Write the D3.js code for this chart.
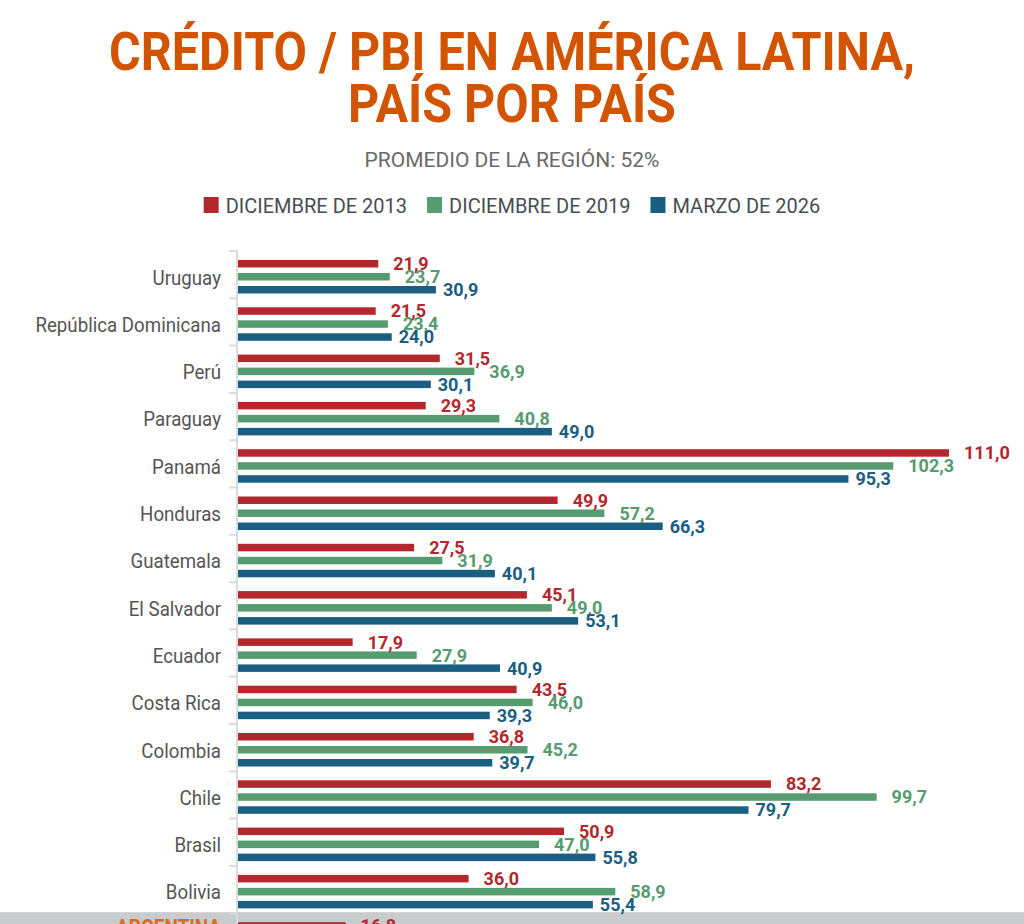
<!DOCTYPE html>
<html>
<head>
<meta charset="utf-8">
<script src="https://cdn.jsdelivr.net/npm/d3@7"></script>
<style>
  html, body { margin: 0; padding: 0; background: #fff; }
  svg { display: block; }
</style>
</head>
<body>
<svg id="chart" width="1024" height="924"></svg>
<script>
// ---------- DATA ----------
const countries = ["Uruguay", "República Dominicana", "Perú", "Paraguay", "Panamá", "Honduras",
  "Guatemala", "El Salvador", "Ecuador", "Costa Rica", "Colombia", "Chile", "Brasil", "Bolivia", "Argentina"];
const dec2013 = [21.9, 21.5, 31.5, 29.3, 111.0, 49.9, 27.5, 45.1, 17.9, 43.5, 36.8, 83.2, 50.9, 36.0, 16.8];
const dec2019 = [23.7, 23.4, 36.9, 40.8, 102.3, 57.2, 31.9, 49.0, 27.9, 46.0, 45.2, 99.7, 47.0, 58.9, null];
const mar2026 = [30.9, 24.0, 30.1, 49.0, 95.3, 66.3, 40.1, 53.1, 40.9, 39.3, 39.7, 79.7, 55.8, 55.4, null];
const seriesNames = ["DICIEMBRE DE 2013", "DICIEMBRE DE 2019", "MARZO DE 2026"];
const seriesColors = ["#b3282d", "#569c70", "#1a5e82"];
const titleLines = ["CRÉDITO / PBI EN AMÉRICA LATINA,", "PAÍS POR PAÍS"];
const subtitleText = "PROMEDIO DE LA REGIÓN: 52%";
const highlightCountry = "Argentina";

// ---------- SETUP ----------
const svg = d3.select("#chart");
const W = 1024, H = 924;
const FONT = "Roboto, 'Open Sans', 'Liberation Sans', sans-serif";
const seriesData = [dec2013, dec2019, mar2026];
const rows = countries.map((c, i) => ({ country: c, values: seriesData.map(s => s[i]) }));

const step = 47.3;
const yBand = d3.scaleBand().domain(countries)
  .range([251, 251 + step * countries.length]).paddingInner(0).paddingOuter(0);
const ySub = d3.scaleBand().domain(d3.range(seriesNames.length)).range([9, 42.5]).paddingInner(0.423);
const x = d3.scaleLinear().domain([0, d3.max(dec2013.concat(dec2019, mar2026))]).range([238, 949]);
const fmt = v => d3.format(".1f")(v).replace(".", ",");

// ---------- TITLE ----------
const titleG = svg.append("g");
const titleBaselines = [70, 122];
const tNodes = titleLines.map((t, i) => titleG.append("text")
  .attr("x", W / 2).attr("y", titleBaselines[i])
  .attr("text-anchor", "middle")
  .style("font-family", FONT).style("font-weight", 700).style("font-size", "53px")
  .attr("fill", "#d35400").text(t));
const natural1 = tNodes[0].node().getComputedTextLength();
const tFactor = 806 / natural1;
tNodes.forEach(n => {
  const L = n.node().getComputedTextLength();
  n.attr("textLength", L * tFactor).attr("lengthAdjust", "spacingAndGlyphs");
});

svg.append("text")
  .attr("x", W / 2).attr("y", 167).attr("text-anchor", "middle")
  .style("font-family", FONT).style("font-size", "21px")
  .attr("fill", "#6a6a6a").text(subtitleText);

// ---------- LEGEND ----------
const legend = svg.append("g");
const items = seriesNames.map((name, i) => {
  const g = legend.append("g");
  g.append("rect").attr("x", 0).attr("y", 197).attr("width", 15).attr("height", 16)
    .attr("fill", seriesColors[i]);
  const t = g.append("text").attr("x", 22).attr("y", 212.5)
    .style("font-family", FONT).style("font-size", "20px")
    .attr("fill", "#484d52").text(name);
  return { g, w: 22 + t.node().getComputedTextLength() };
});
const gap = 20;
const totalW = d3.sum(items, d => d.w) + gap * (items.length - 1);
let lx = W / 2 - totalW / 2;
items.forEach(it => { it.g.attr("transform", `translate(${lx},0)`); lx += it.w + gap; });

// ---------- HIGHLIGHT BAND ----------
svg.append("rect")
  .attr("x", 0).attr("y", yBand(highlightCountry) - 1)
  .attr("width", W).attr("height", yBand.step() + 1)
  .attr("fill", "#c9cccc");

// ---------- AXIS ----------
const axisG = svg.append("g");
axisG.append("line")
  .attr("x1", 237).attr("x2", 237)
  .attr("y1", yBand.range()[0]).attr("y2", yBand.range()[1])
  .attr("stroke", "#dcdcdc").attr("stroke-width", 2);
axisG.selectAll("line.tick").data(countries).join("line")
  .attr("class", "tick")
  .attr("x1", 229).attr("x2", 237)
  .attr("y1", d => yBand(d)).attr("y2", d => yBand(d))
  .attr("stroke", "#dcdcdc").attr("stroke-width", 2);

// ---------- COUNTRY LABELS ----------
const labelG = svg.append("g");
rows.forEach(r => {
  const isHi = r.country === highlightCountry;
  const t = labelG.append("text")
    .attr("x", 221)
    .attr("y", isHi ? yBand(r.country) + 22 : yBand(r.country) + 26 + 7.5)
    .attr("text-anchor", "end")
    .style("font-family", FONT)
    .style("font-size", isHi ? "22px" : "21px")
    .style("font-weight", isHi ? 700 : 400)
    .attr("fill", isHi ? "#dc6a25" : "#555")
    .text(isHi ? r.country.toUpperCase() : r.country);
  const L = t.node().getComputedTextLength();
  t.attr("textLength", L * (isHi ? 0.86 : 0.89)).attr("lengthAdjust", "spacingAndGlyphs");
});

// ---------- BARS ----------
const labelOffsets = [15, 15, 7];
const groups = svg.append("g").selectAll("g.country").data(rows).join("g")
  .attr("class", "country")
  .attr("transform", d => `translate(0,${yBand(d.country)})`);

groups.selectAll("rect.bar")
  .data(d => d.values.map((v, i) => ({ v, i })).filter(e => e.v != null))
  .join("rect").attr("class", "bar")
  .attr("x", x(0))
  .attr("y", e => ySub(e.i))
  .attr("width", e => x(e.v) - x(0))
  .attr("height", ySub.bandwidth())
  .attr("fill", e => seriesColors[e.i]);

groups.selectAll("text.val")
  .data(d => d.values.map((v, i) => ({ v, i })).filter(e => e.v != null))
  .join("text").attr("class", "val")
  .attr("x", e => x(e.v) + labelOffsets[e.i])
  .attr("y", e => ySub(e.i) + ySub.bandwidth() / 2 + 6.4)
  .style("font-family", FONT).style("font-weight", 700).style("font-size", "18px")
  .attr("fill", e => seriesColors[e.i])
  .text(e => fmt(e.v));
</script>
</body>
</html>
